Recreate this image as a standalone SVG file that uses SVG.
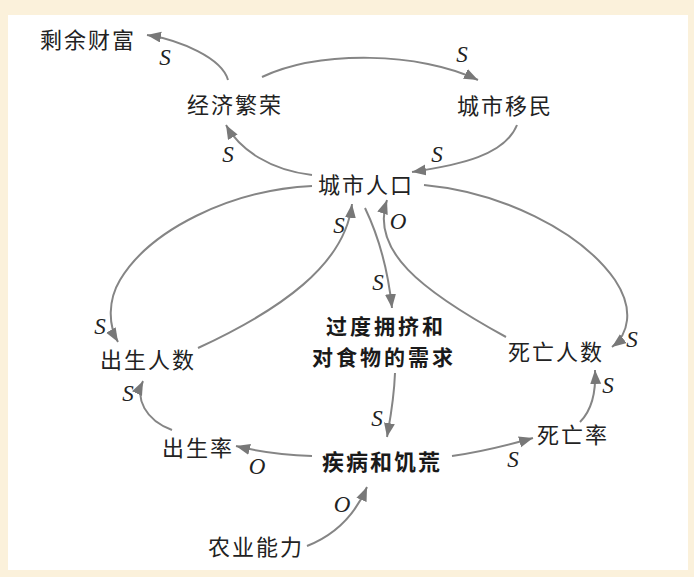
<svg xmlns="http://www.w3.org/2000/svg" width="694" height="577" viewBox="0 0 694 577">
<defs>
<marker id="ah" markerUnits="userSpaceOnUse" markerWidth="16" markerHeight="12" refX="14" refY="5.5" orient="auto">
<path d="M0,0 L14,5.5 L0,11 Z" fill="#787878"/>
</marker>
<style>
.n{font-family:"Liberation Serif","Noto Sans CJK SC",serif;font-size:22px;letter-spacing:2px;fill:#222}
.b{font-family:"Noto Sans CJK SC",sans-serif;font-size:22px;letter-spacing:2px;font-weight:bold;fill:#1a1a1a}
.b2{font-family:"Noto Sans CJK SC",sans-serif;font-size:21px;letter-spacing:3px;font-weight:bold;fill:#1a1a1a}
.l{font-family:"Liberation Serif",serif;font-style:italic;font-size:23px;fill:#222;text-anchor:middle}
.c{fill:none;stroke:#858585;stroke-width:2;marker-end:url(#ah)}
</style>
</defs>
<rect x="0" y="0" width="694" height="577" fill="#fbf1db"/>
<rect x="8" y="15" width="680" height="555" fill="#ffffff"/>
<g id="connectors">
<path class="c" d="M228,80 C222,58 180,40 147,35"/>
<path class="c" d="M262,77 C320,50 420,52 478,80"/>
<path class="c" d="M517,125 C505,155 460,165 412,172"/>
<path class="c" d="M312,175 C270,170 240,150 226,125"/>
<path class="c" d="M312,186 C230,190 150,230 120,280 C108,300 108,325 118,342"/>
<path class="c" d="M198,348 C280,310 345,265 352,204"/>
<path class="c" d="M365,208 C378,235 388,270 392,308"/>
<path class="c" d="M506,337 C420,290 370,250 387,200"/>
<path class="c" d="M424,185 C500,192 580,230 615,280 C635,310 628,335 612,347"/>
<path class="c" d="M395,373 C394,400 390,420 387,437"/>
<path class="c" d="M312,456 C285,455 260,452 236,446"/>
<path class="c" d="M452,456 C480,452 505,446 533,438"/>
<path class="c" d="M172,430 C145,420 135,398 143,381"/>
<path class="c" d="M580,422 C592,410 596,390 595,370"/>
<path class="c" d="M307,546 C335,535 355,515 367,487"/>
</g>
<g id="labels">
<text class="l" x="165" y="65">S</text>
<text class="l" x="462" y="62">S</text>
<text class="l" x="437" y="162">S</text>
<text class="l" x="228" y="162">S</text>
<text class="l" x="100" y="334">S</text>
<text class="l" x="339" y="233">S</text>
<text class="l" x="378" y="290">S</text>
<text class="l" x="398" y="229">O</text>
<text class="l" x="632" y="347">S</text>
<text class="l" x="377" y="426">S</text>
<text class="l" x="257" y="474">O</text>
<text class="l" x="513" y="467">S</text>
<text class="l" x="128" y="401">S</text>
<text class="l" x="608" y="393">S</text>
<text class="l" x="342" y="512">O</text>
</g>
<g id="surplus"><text class="n" x="40" y="48">剩余财富</text></g>
<g id="prosperity"><text class="n" x="187" y="113">经济繁荣</text></g>
<g id="migration"><text class="n" x="457" y="114">城市移民</text></g>
<g id="population"><text class="n" x="318" y="193">城市人口</text></g>
<g id="crowding"><text class="b2" x="326" y="334">过度拥挤和</text><text class="b2" x="312" y="365">对食物的需求</text></g>
<g id="births"><text class="n" x="100" y="368">出生人数</text></g>
<g id="deaths"><text class="n" x="508" y="360">死亡人数</text></g>
<g id="birthrate"><text class="n" x="162" y="456">出生率</text></g>
<g id="disease"><text class="b" x="322" y="470">疾病和饥荒</text></g>
<g id="deathrate"><text class="n" x="537" y="443">死亡率</text></g>
<g id="agriculture"><text class="n" x="208" y="555">农业能力</text></g>
</svg>
